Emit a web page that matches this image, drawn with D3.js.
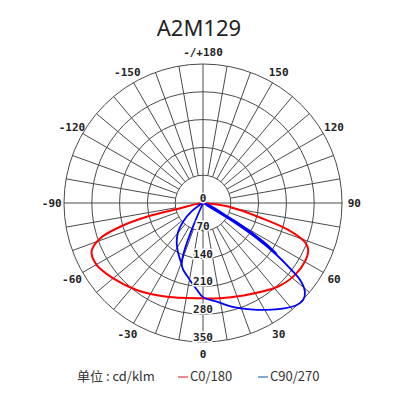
<!DOCTYPE html>
<html>
<head>
<meta charset="utf-8">
<script src="https://cdn.jsdelivr.net/npm/d3@7"></script>
<style>
  html, body { margin: 0; padding: 0; background: #fff; }
</style>
</head>
<body>
<div id="chart"></div>
<script>
// ring values (cd/klm) and angle labels
var ringValues = [70, 140, 210, 280, 350];
var labelAngles = [-150, -120, -90, -60, -30, 0, 30, 60, 90, 120, 150, 180];

// C0/180 curve, angle from nadir (negative = C180 side)
var c0Angles = [-90, -80, -77, -76.3, -74, -71, -66.5, -60, -50, -37, -21, 0, 7, 24.5, 42, 52, 60, 66, 69, 72.5, 75.5, 82, 90];
var c0Values = [0, 20, 59, 146, 217, 274, 306, 310, 295, 275, 253, 240, 242, 255, 283, 294, 296, 290, 275, 225, 153, 64, 0];

// C90/270 curve, traced in drawing order
var c90Angles = [-19, -19, -11, -4, 0, 8, 16, 24, 31, 37, 42.6, 46, 49, 51.6, 53.1, 54.8, 56.7, 58.3, 60, 60.6, 57.4, 55.4, 56.9, 59.6, 62, -58, -53.7, -47, -41, -34.5, -27.6, -19];
var c90Values = [0, 164, 192, 219, 237, 251, 272, 293, 314, 333, 349, 351, 340, 312, 274, 227, 162, 90, 0, 95, 180, 226, 180, 95, 0, 12, 35, 68, 95, 117, 137, 164];

var width = 400, height = 400;
var cx = 203, cy = 203;

var svg = d3.select("#chart").append("svg")
  .attr("width", width)
  .attr("height", height);

// title
svg.append("text")
  .attr("x", 199)
  .attr("y", 36)
  .attr("text-anchor", "middle")
  .style("font-family", "'Noto Sans', sans-serif")
  .style("font-size", "22px")
  .style("fill", "#222")
  .text("A2M129");

var g = svg.append("g").attr("transform", "translate(" + cx + "," + cy + ")");

// scales: radius from value, angle (0 = down, +90 = right)
var r = d3.scaleLinear().domain([0, 350]).range([0, 139]);
var ang = d3.scaleLinear().domain([0, 180]).range([Math.PI, 0]);

function px(a, v) { return r(v) * Math.sin(ang(a)); }
function py(a, v) { return -r(v) * Math.cos(ang(a)); }

// rings
g.selectAll("circle.ring")
  .data(ringValues)
  .enter().append("circle")
  .attr("class", "ring")
  .attr("r", d => r(d))
  .attr("fill", "none")
  .attr("stroke", "#4a4a4a")
  .attr("stroke-width", 1);

// spokes every 10 deg
var spokes = d3.range(-170, 190, 10);
g.selectAll("line.spoke")
  .data(spokes)
  .enter().append("line")
  .attr("class", "spoke")
  .attr("x1", d => d % 90 === 0 ? 0 : px(d, ringValues[0]))
  .attr("y1", d => d % 90 === 0 ? 0 : py(d, ringValues[0]))
  .attr("x2", d => px(d, ringValues[ringValues.length - 1]))
  .attr("y2", d => py(d, ringValues[ringValues.length - 1]))
  .attr("stroke", "#4a4a4a")
  .attr("stroke-width", 1);

// curves
var radial = d3.lineRadial()
  .angle(d => ang(d[0]))
  .radius(d => r(d[1]))
  .curve(d3.curveCatmullRom.alpha(0.5));

g.append("path")
  .attr("d", radial(d3.zip(c0Angles, c0Values)))
  .attr("fill", "none")
  .attr("stroke", "#ff0000")
  .attr("stroke-width", 2);

g.append("path")
  .attr("d", radial(d3.zip(c90Angles, c90Values)))
  .attr("fill", "none")
  .attr("stroke", "#0000ff")
  .attr("stroke-width", 1.8);

// ring labels (with halo)
var lblFont = "'DejaVu Sans Mono', monospace";
g.selectAll("text.rl")
  .data([0].concat(ringValues))
  .enter().append("text")
  .attr("class", "rl")
  .attr("x", 0)
  .attr("y", d => r(d) - 1)
  .attr("text-anchor", "middle")
  .style("font-family", lblFont)
  .style("font-weight", "bold")
  .style("font-size", "11px")
  .style("fill", "#222")
  .style("stroke", "#fff")
  .style("stroke-width", 3)
  .style("paint-order", "stroke")
  .text(d => d);

// angle labels
g.selectAll("text.al")
  .data(labelAngles)
  .enter().append("text")
  .attr("class", "al")
  .attr("x", d => px(d, 381))
  .attr("y", d => py(d, 381))
  .attr("dy", "0.35em")
  .attr("text-anchor", "middle")
  .style("font-family", lblFont)
  .style("font-weight", "bold")
  .style("font-size", "11px")
  .style("fill", "#222")
  .text(d => d === 180 ? "-/+180" : d);

// legend
var lg = svg.append("g").style("font-family", "'Noto Sans CJK SC', 'Noto Sans', sans-serif")
  .style("font-size", "13px").style("fill", "#333");
lg.append("text").attr("x", 77).attr("y", 381).text("单位 : cd/klm");
lg.append("line").attr("x1", 178).attr("x2", 188).attr("y1", 377).attr("y2", 377)
  .attr("stroke", "#e0393e").attr("stroke-width", 1.2);
lg.append("text").attr("x", 190).attr("y", 381).text("C0/180");
lg.append("line").attr("x1", 258).attr("x2", 268).attr("y1", 377).attr("y2", 377)
  .attr("stroke", "#2f6db5").attr("stroke-width", 1.2);
lg.append("text").attr("x", 270).attr("y", 381).text("C90/270");
</script>
</body>
</html>
